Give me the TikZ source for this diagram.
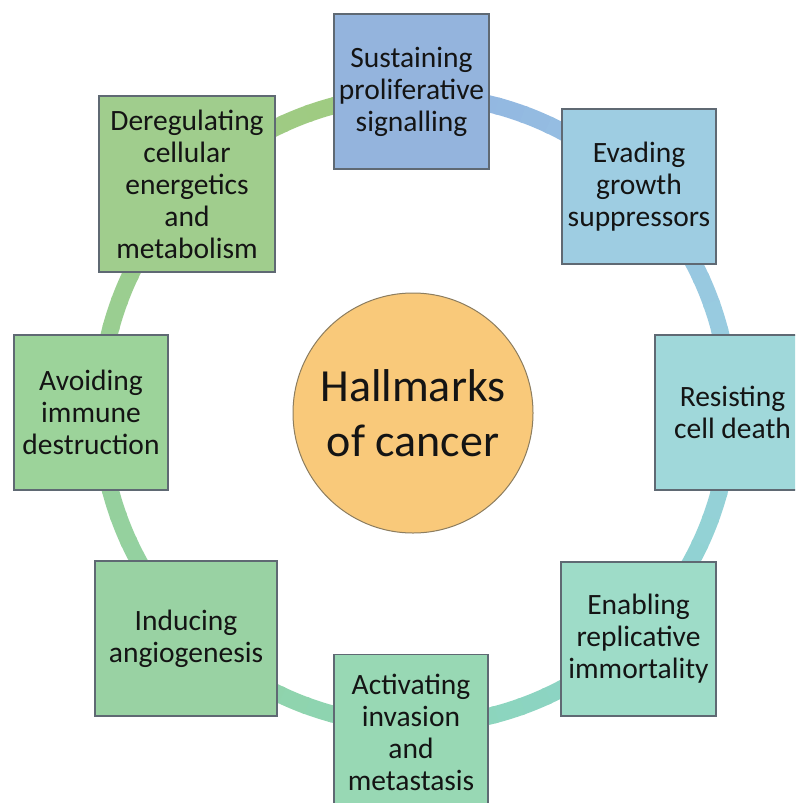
\documentclass[tikz,border=0pt]{standalone}
\usepackage{fontspec}
\setmainfont{Carlito}
\usetikzlibrary{calc}
\definecolor{ringc0}{RGB}{145,180,225}
\definecolor{ringc1}{RGB}{152,196,226}
\definecolor{ringc2}{RGB}{152,208,222}
\definecolor{ringc3}{RGB}{140,212,202}
\definecolor{ringc4}{RGB}{140,213,182}
\definecolor{ringc5}{RGB}{146,210,165}
\definecolor{ringc6}{RGB}{152,207,150}
\definecolor{ringc7}{RGB}{158,204,136}
\definecolor{ringc8}{RGB}{160,202,125}
\definecolor{bordc}{RGB}{95,105,115}
\definecolor{txtc}{RGB}{20,20,20}
\definecolor{fsus}{RGB}{148,180,221}
\definecolor{feva}{RGB}{158,205,226}
\definecolor{fres}{RGB}{160,216,218}
\definecolor{fena}{RGB}{158,220,200}
\definecolor{fact}{RGB}{152,216,180}
\definecolor{find}{RGB}{153,210,163}
\definecolor{favo}{RGB}{156,211,154}
\definecolor{fder}{RGB}{160,205,141}
\definecolor{fhall}{RGB}{249,201,122}
\definecolor{bhall}{RGB}{140,125,95}
\tikzset{
  hbox/.style={draw=bordc, line width=1.2pt, text=txtc, align=center,
    font=\fontsize{29.5}{32}\selectfont, inner sep=0pt},
  ringseg/.style={line width=17pt, line cap=butt},
}
\begin{document}
\begin{tikzpicture}[x=1pt,y=-1pt]
\useasboundingbox (0,0) rectangle (795,803);
\clip (0,0) rectangle (795,803);
\fill[white] (0,0) rectangle (795,803);
\coordinate (rc) at (415,410);
% gradient ring
\foreach \i in {0,...,71}{
  \pgfmathtruncatemacro\k{int(\i/9)}
  \pgfmathtruncatemacro\kk{\k+1}
  \pgfmathtruncatemacro\t{round(mod(\i,9)*100/9)}
  \pgfmathsetmacro\a{5*\i-90}
  \colorlet{segc}{ringc\kk!\t!ringc\k}
  \draw[ringseg, segc] ($(rc)+(\a:315)$) arc[start angle=\a, end angle=\a+5.6, radius=315];
}
% boxes
\node[hbox, fill=fsus, minimum width=155pt, minimum height=155pt] (sus) at (411.5,91.5) {Sustaining\\proliferative\\signalling};
\node[hbox, fill=feva, minimum width=154pt, minimum height=155pt] (eva) at (639,186.5) {Evading\\growth\\suppressors};
\node[hbox, fill=fres, minimum width=155pt, minimum height=155pt] (res) at (732.5,412.5) {Resisting\\cell death};
\node[hbox, fill=fena, minimum width=155pt, minimum height=154pt] (ena) at (638.5,639) {Enabling\\replicative\\immortality};
\node[hbox, fill=fact, minimum width=154pt, minimum height=155pt] (act) at (411,732) {Activating\\invasion\\and\\metastasis};
\node[hbox, fill=find, minimum width=182pt, minimum height=155pt] (ind) at (186,638.5) {Inducing\\angiogenesis};
\node[hbox, fill=favo, minimum width=154pt, minimum height=155pt] (avo) at (91,412.5) {Avoiding\\immune\\destruction};
\node[hbox, fill=fder, minimum width=176pt, minimum height=176pt] (der) at (187,184) {Deregulating\\cellular\\energetics\\and\\metabolism};
% centre
\node[circle, draw=bhall, line width=1pt, fill=fhall, minimum size=240pt, inner sep=0pt,
  text=txtc, align=center, font=\fontsize{46}{55}\selectfont] (hall) at (413,413) {Hallmarks\\of cancer};
\end{tikzpicture}
\end{document}
